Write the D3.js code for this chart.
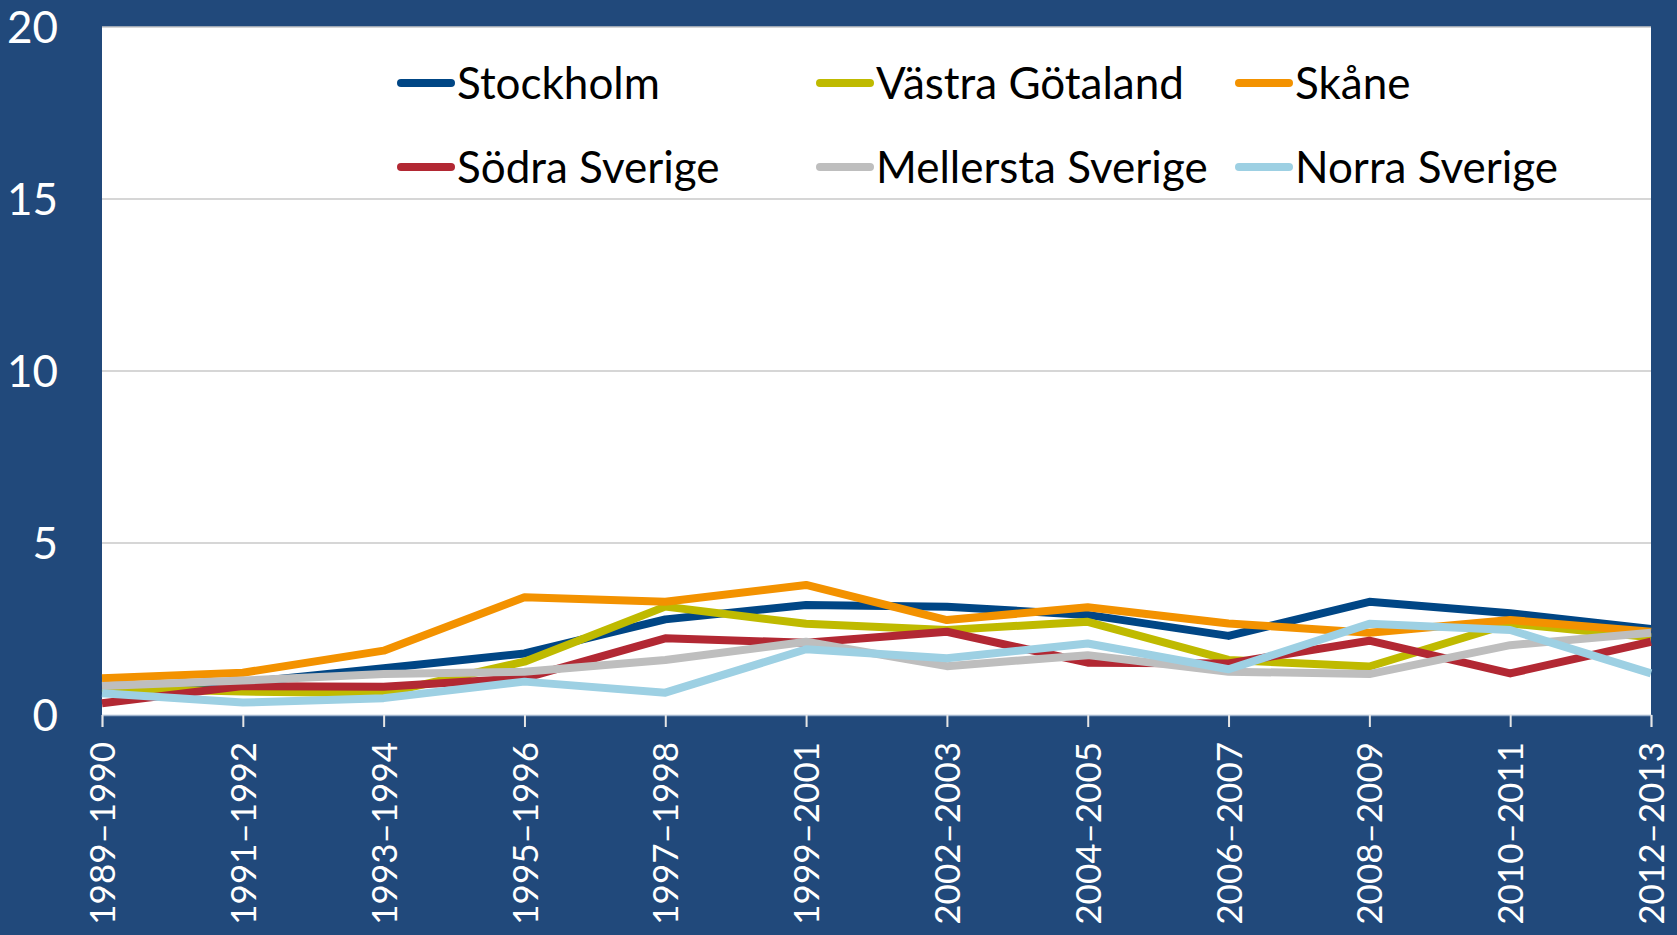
<!DOCTYPE html>
<html>
<head>
<meta charset="utf-8">
<script src="https://cdn.jsdelivr.net/npm/d3@7"></script>
<style>
  html, body { margin: 0; padding: 0; background: #21497b; }
  svg { display: block; }
  text { font-family: Lato, "Noto Sans", sans-serif; }
</style>
</head>
<body>
<svg id="chart" width="1677" height="935"></svg>
<script>
// periods on the x axis
var periods = ["1989–1990", "1991–1992", "1993–1994", "1995–1996", "1997–1998", "1999–2001",
               "2002–2003", "2004–2005", "2006–2007", "2008–2009", "2010–2011", "2012–2013"];

var regions = ["Stockholm", "Västra Götaland", "Skåne", "Södra Sverige", "Mellersta Sverige", "Norra Sverige"];
var colors  = ["#004685", "#bfba00", "#f39200", "#b22833", "#bebebe", "#9dd0e3"];

// values
var stockholm = [0.84, 0.94, 1.36, 1.79, 2.78, 3.20, 3.15, 2.91, 2.30, 3.29, 2.96, 2.50];
var vastra    = [0.78, 0.68, 0.63, 1.55, 3.15, 2.65, 2.47, 2.71, 1.60, 1.41, 2.66, 2.26];
var skane     = [1.07, 1.23, 1.87, 3.42, 3.29, 3.78, 2.76, 3.13, 2.66, 2.39, 2.76, 2.42];
var sodra     = [0.34, 0.84, 0.82, 1.07, 2.23, 2.10, 2.42, 1.52, 1.50, 2.16, 1.21, 2.13];
var mellersta = [0.84, 1.00, 1.19, 1.26, 1.60, 2.13, 1.42, 1.74, 1.26, 1.19, 2.03, 2.39];
var norra     = [0.63, 0.36, 0.49, 0.97, 0.65, 1.91, 1.65, 2.08, 1.33, 2.65, 2.47, 1.21];

var yTicks = [0, 5, 10, 15, 20];

var series = [stockholm, vastra, skane, sodra, mellersta, norra];

var svg = d3.select("#chart");

var plotLeft = 102, plotRight = 1651, plotTop = 27, plotBottom = 715;

var x = d3.scalePoint()
    .domain(periods)
    .range([plotLeft, plotRight]);

var y = d3.scaleLinear()
    .domain([0, 20])
    .range([plotBottom, plotTop]);

// white plot area
svg.append("rect")
    .attr("x", plotLeft)
    .attr("y", plotTop)
    .attr("width", plotRight - plotLeft)
    .attr("height", plotBottom - plotTop)
    .attr("fill", "#ffffff");

// gridlines
svg.append("g")
    .selectAll("line")
    .data(yTicks.filter(function(d){ return d > 0; }))
    .enter().append("line")
    .attr("x1", plotLeft)
    .attr("x2", plotRight)
    .attr("y1", function(d){ return y(d); })
    .attr("y2", function(d){ return y(d); })
    .attr("stroke", "#c8c8c8")
    .attr("stroke-width", 1.5);

// y axis labels
var yAxis = d3.axisLeft(y).tickValues(yTicks).tickSize(0).tickPadding(0);
var yg = svg.append("g")
    .attr("transform", "translate(58,0)")
    .call(yAxis);
yg.select(".domain").remove();
yg.selectAll("text")
    .attr("fill", "#ffffff")
    .attr("font-size", 44)
    .attr("dy", "0.36em")
    .style("font-family", "Lato, 'Noto Sans', sans-serif");

// x axis
var xAxis = d3.axisBottom(x).tickSize(12).tickPadding(0);
var xg = svg.append("g")
    .attr("transform", "translate(0," + plotBottom + ")")
    .call(xAxis);
xg.select(".domain")
    .attr("stroke", "#9fb3cc")
    .attr("stroke-width", 1.5);
xg.selectAll(".tick line")
    .attr("stroke", "#e6e6e6")
    .attr("stroke-width", 2);
xg.selectAll("text")
    .attr("fill", "#ffffff")
    .attr("font-size", 35)
    .attr("text-anchor", "end")
    .attr("transform", "rotate(-90)")
    .attr("x", -27)
    .attr("y", 0)
    .attr("dy", "0.36em")
    .style("font-family", "Lato, 'Noto Sans', sans-serif");

// lines
var line = d3.line()
    .x(function(d, i){ return x(periods[i]); })
    .y(function(d){ return y(d); });

svg.append("g")
    .selectAll("path")
    .data(series)
    .enter().append("path")
    .attr("d", function(d){ return line(d); })
    .attr("fill", "none")
    .attr("stroke", function(d, i){ return colors[i]; })
    .attr("stroke-width", 8)
    .attr("stroke-linejoin", "round");

// legend
var legX = [397, 816, 1235];
var legY = [83, 167];
var leg = svg.append("g")
    .selectAll("g")
    .data(regions)
    .enter().append("g")
    .attr("transform", function(d, i){
        return "translate(" + legX[i % 3] + "," + legY[Math.floor(i / 3)] + ")";
    });
leg.append("line")
    .attr("x1", 4)
    .attr("x2", 54)
    .attr("stroke", function(d, i){ return colors[i]; })
    .attr("stroke-width", 8)
    .attr("stroke-linecap", "round");
leg.append("text")
    .attr("x", 60)
    .attr("y", 16)
    .attr("font-size", 44)
    .attr("fill", "#000000")
    .text(function(d){ return d; });
</script>
</body>
</html>
